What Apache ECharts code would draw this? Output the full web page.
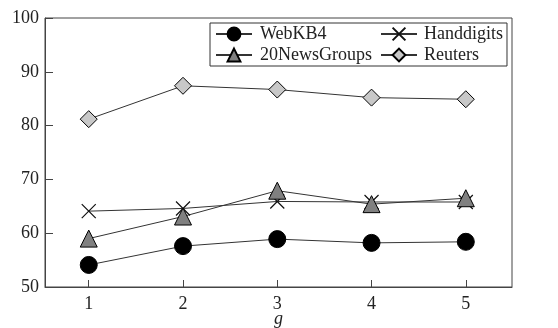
<!DOCTYPE html>
<html><head><meta charset="utf-8">
<script src="https://cdn.jsdelivr.net/npm/echarts@6/dist/echarts.min.js"></script>
<style>html,body{margin:0;padding:0;background:#fff}#c{width:558px;height:328px}</style>
</head><body><div id="c"></div>
<script>
var xValues = [1, 2, 3, 4, 5];
var xTickLabels = [1, 2, 3, 4, 5];
var yTicks = [50, 60, 70, 80, 90, 100];
var webkb4 = [54.1, 57.6, 58.9, 58.2, 58.4];
var newsGroups = [59.0, 63.1, 67.9, 65.4, 66.5];
var handdigits = [64.1, 64.6, 65.9, 65.8, 65.8];
var reuters = [81.2, 87.4, 86.7, 85.2, 84.9];

var FONT = 'Liberation Serif';
var LINE = '#333';
function pts(arr){ return xValues.map(function(x,i){ return [x, arr[i]]; }); }
function mk(name, arr, symbol, size, fill, extra){
  var s = {
    name: name, type: 'line', data: pts(arr), symbol: symbol, symbolSize: size,
    showAllSymbol: true, animation: false,
    lineStyle: {color: LINE, width: 1},
    itemStyle: {color: fill, borderColor: '#000', borderWidth: 1, opacity: 1}
  };
  if (extra) for (var k in extra) s[k] = extra[k];
  return s;
}
var cross = 'path://M0,0L10,10M10,0L0,10';
var chart = echarts.init(document.getElementById('c'), null, {renderer: 'canvas'});
chart.setOption({
  animation: false,
  textStyle: {fontFamily: FONT},
  grid: {left: 45, right: 46, top: 18, bottom: 41, show: true, borderColor: '#444', borderWidth: 1, backgroundColor: 'transparent', outerBoundsMode: 'none', containLabel: false},
  xAxis: {
    type: 'value', min: 0.536, max: 5.49,
    name: 'g', nameLocation: 'middle', nameGap: 23, nameMoveOverlap: false,
    nameTextStyle: {fontFamily: FONT, fontStyle: 'italic', fontSize: 18, color: '#222'},
    axisLine: {show: true, lineStyle: {color: '#444'}},
    splitLine: {show: false},
    axisTick: {show: true, inside: true, length: 7, lineStyle: {color: '#444'}, customValues: xTickLabels},
    axisLabel: {customValues: xTickLabels, fontFamily: FONT, fontSize: 18, color: '#222', margin: 8}
  },
  yAxis: {
    type: 'value', min: yTicks[0], max: yTicks[yTicks.length-1], interval: 10,
    axisLine: {show: true, lineStyle: {color: '#444'}},
    splitLine: {show: false},
    axisTick: {show: true, inside: true, length: 8, lineStyle: {color: '#444'}},
    axisLabel: {fontFamily: FONT, fontSize: 18, color: '#222', margin: 6}
  },
  legend: [
    {
      data: ['WebKB4', '20NewsGroups'], orient: 'vertical', left: 210, top: 23,
      itemWidth: 36, itemHeight: 16, itemGap: 3,
      padding: [2, 135, 2, 5], borderColor: '#333', borderWidth: 1,
      textStyle: {fontFamily: FONT, fontSize: 18, color: '#222', padding: [0,0,0,3]}
    },
    {
      data: ['Handdigits', 'Reuters'], orient: 'vertical', left: 378, top: 23, z: 10,
      itemWidth: 36, itemHeight: 16, itemGap: 3, padding: [2, 2, 2, 2],
      textStyle: {fontFamily: FONT, fontSize: 18, color: '#222', padding: [0,0,0,2]}
    }
  ],
  series: [
    mk('WebKB4', webkb4, 'circle', 17, '#000'),
    mk('Handdigits', handdigits, cross, 14, 'none', {itemStyle: {color: 'none', borderColor: '#111', borderWidth: 1.2, opacity: 1}}),
    mk('20NewsGroups', newsGroups, 'triangle', 17, '#808080'),
    mk('Reuters', reuters, 'diamond', 17, '#c8c8c8')
  ]
});
</script></body></html>
